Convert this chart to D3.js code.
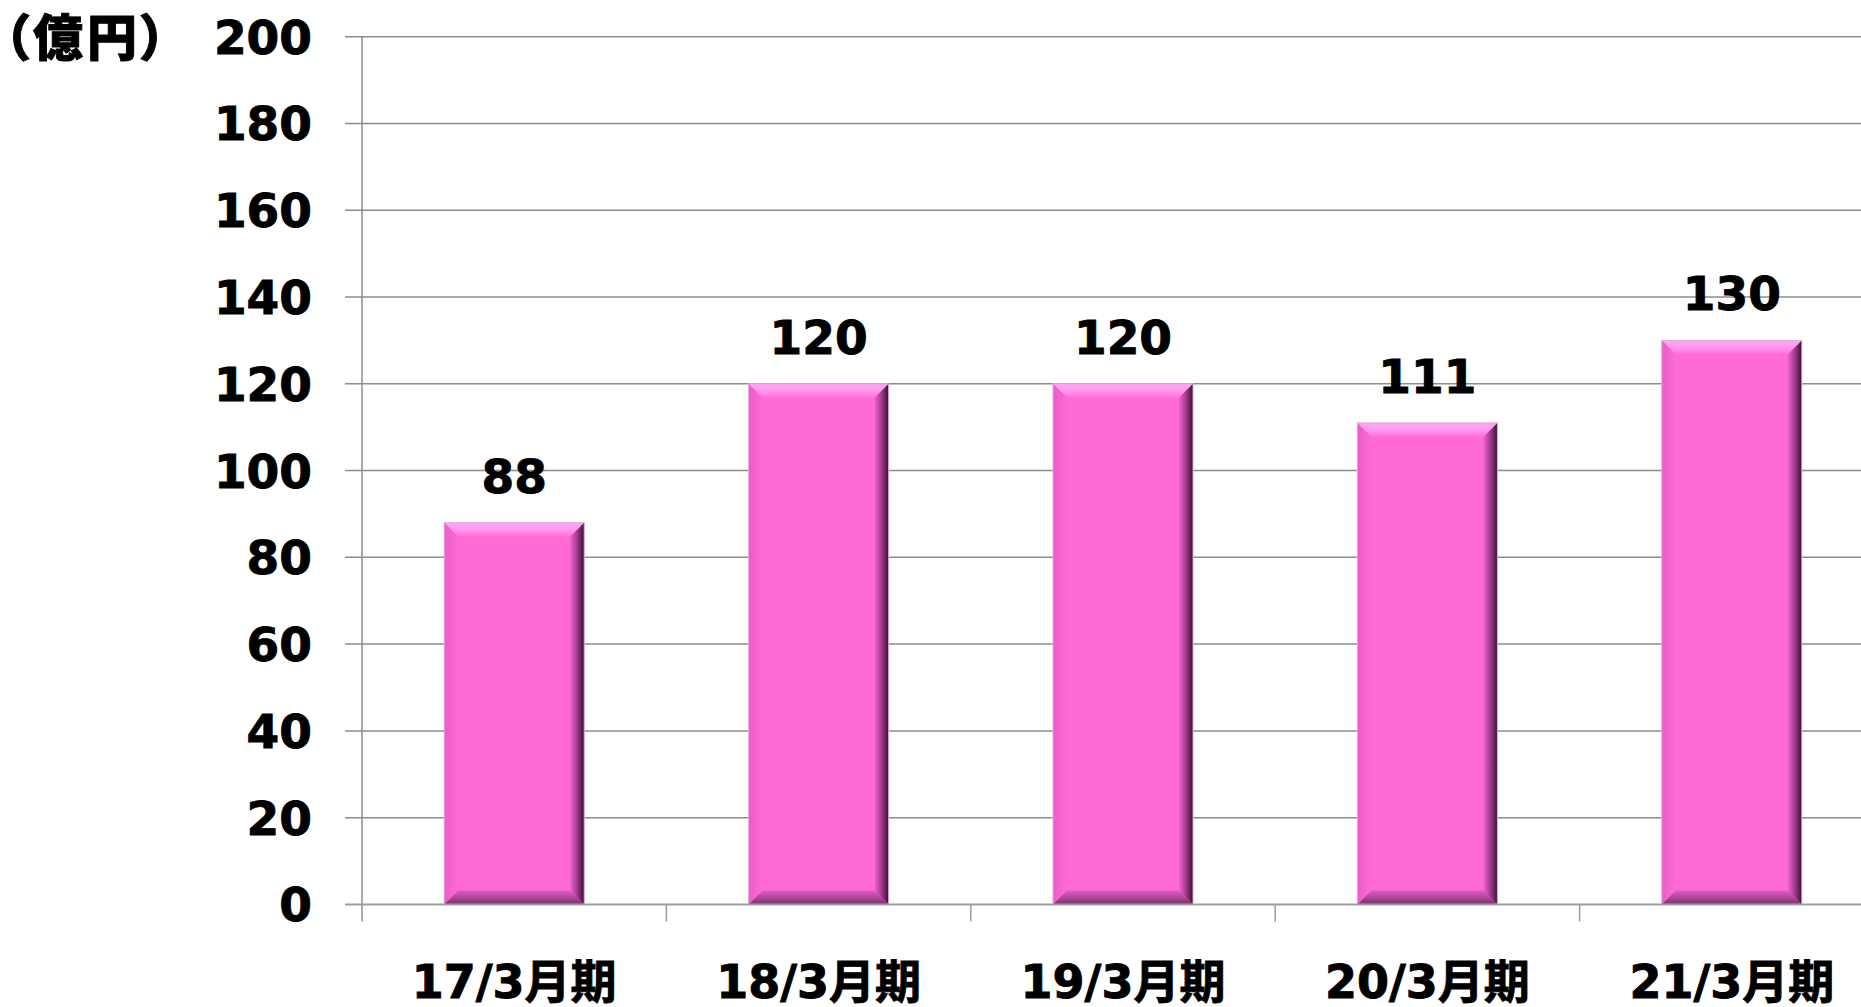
<!DOCTYPE html>
<html>
<head>
<meta charset="utf-8">
<script src="https://cdn.jsdelivr.net/npm/d3@7"></script>
<style>
  body { margin: 0; background: #fff; overflow: hidden; }
  svg text { font-family: "DejaVu Sans", Verdana, "Noto Sans CJK JP", sans-serif; font-weight: bold; fill: #000; stroke: #000; stroke-width: 0.9px; }
</style>
</head>
<body>
<div id="chart"></div>
<script>
var categories = ["17/3月期", "18/3月期", "19/3月期", "20/3月期", "21/3月期"];
var values = [88, 120, 120, 111, 130];
var yTicks = [0, 20, 40, 60, 80, 100, 120, 140, 160, 180, 200];
var unitLabel = "（億円）";

var W = 1861, H = 1007;
var plotLeft = 362, plotBottom = 904.4, plotTop = 36.8;
var step = 304.4;

var svg = d3.select("#chart")
  .append("svg")
  .attr("width", W)
  .attr("height", H);

var x = d3.scaleBand()
  .domain(categories)
  .range([plotLeft, plotLeft + step * categories.length])
  .paddingInner(0.54)
  .paddingOuter(0.27);

var y = d3.scaleLinear()
  .domain([0, 200])
  .range([plotBottom, plotTop]);

// gradients for the bevel look
var defs = svg.append("defs");
function grad(id, x2, y2, stops) {
  var g = defs.append("linearGradient").attr("id", id)
    .attr("x1", 0).attr("y1", 0).attr("x2", x2).attr("y2", y2);
  stops.forEach(function(s){
    g.append("stop").attr("offset", s[0]).attr("stop-color", s[1]);
  });
}
grad("bevTop", 0, 1, [[0, "#ffa6ee"], [0.45, "#ff9cf3"], [1, "#ff6ed8"]]);
grad("bevLeft", 1, 0, [[0, "#e95ccb"], [1, "#ff6bd6"]]);
grad("bevRight", 1, 0, [[0, "#f062cf"], [0.5, "#a23a8e"], [1, "#3b0f33"]]);
grad("bevBottom", 0, 1, [[0, "#e35cc4"], [0.6, "#a5438f"], [1, "#7d2d6d"]]);

// gridlines
svg.append("g").selectAll("line")
  .data(yTicks.filter(function(d){ return d > 0; })).enter()
  .append("line")
  .attr("x1", plotLeft - 17).attr("x2", W)
  .attr("y1", function(d){ return y(d); })
  .attr("y2", function(d){ return y(d); })
  .attr("stroke", "#8c8c8c")
  .attr("stroke-width", 1.5);

// y axis line
svg.append("line")
  .attr("x1", plotLeft).attr("x2", plotLeft)
  .attr("y1", y(200)).attr("y2", plotBottom + 17)
  .attr("stroke", "#8c8c8c").attr("stroke-width", 1.5);

// y tick labels
svg.append("g").selectAll("text")
  .data(yTicks).enter()
  .append("text")
  .attr("x", 312)
  .attr("y", function(d){ return y(d); })
  .attr("dy", "0.36em")
  .attr("text-anchor", "end")
  .style("font-size", "47px")
  .text(function(d){ return d; });

svg.append("text")
  .attr("x", 4).attr("y", 38).attr("dy", "0.36em")
  .style("font-family", "'Noto Sans CJK JP', sans-serif")
  .style("font-feature-settings", "'palt' 1")
  .style("letter-spacing", "4px")
  .style("font-weight", 900)
  .style("font-size", "50px")
  .text(unitLabel);

// bars
var bev = 14;
var bars = svg.append("g").selectAll("g")
  .data(values).enter().append("g")
  .attr("transform", function(d, i){
    return "translate(" + x(categories[i]) + "," + y(d) + ")";
  });

bars.each(function(d){
  var g = d3.select(this);
  var w = x.bandwidth(), h = plotBottom - y(d);
  g.append("rect").attr("width", w).attr("height", h).attr("fill", "#ff6bd6");
  g.append("polygon").attr("points", [[0,0],[w,0],[w-bev,bev],[bev,bev]].join(" ")).attr("fill", "url(#bevTop)");
  g.append("polygon").attr("points", [[0,0],[bev,bev],[bev,h-bev],[0,h]].join(" ")).attr("fill", "url(#bevLeft)");
  g.append("polygon").attr("points", [[w,0],[w,h],[w-bev,h-bev],[w-bev,bev]].join(" ")).attr("fill", "url(#bevRight)");
  g.append("polygon").attr("points", [[0,h],[bev,h-bev],[w-bev,h-bev],[w,h]].join(" ")).attr("fill", "url(#bevBottom)");
  g.append("rect").attr("width", w).attr("height", h)
    .attr("fill", "none").attr("stroke", "#dcb0d4").attr("stroke-width", 1);
});

// baseline and category ticks
svg.append("line")
  .attr("x1", plotLeft - 17).attr("x2", W)
  .attr("y1", plotBottom).attr("y2", plotBottom)
  .attr("stroke", "#9c9c9c").attr("stroke-width", 2);

svg.append("g").selectAll("line")
  .data(d3.range(1, categories.length + 1)).enter()
  .append("line")
  .attr("x1", function(i){ return plotLeft + i * x.step(); })
  .attr("x2", function(i){ return plotLeft + i * x.step(); })
  .attr("y1", plotBottom).attr("y2", plotBottom + 17)
  .attr("stroke", "#9c9c9c").attr("stroke-width", 1.5);

// data labels
svg.append("g").selectAll("text")
  .data(values).enter()
  .append("text")
  .attr("x", function(d, i){ return x(categories[i]) + x.bandwidth() / 2; })
  .attr("y", function(d){ return y(d) - 30; })
  .attr("text-anchor", "middle")
  .style("font-size", "47px")
  .text(function(d){ return d; });

// category labels
svg.append("g").selectAll("text")
  .data(categories).enter()
  .append("text")
  .attr("x", function(d){ return x(d) + x.bandwidth() / 2; })
  .attr("y", 981)
  .attr("dy", "0.36em")
  .attr("text-anchor", "middle")
  .style("font-size", "46px")
  .text(function(d){ return d; });
</script>
</body>
</html>
